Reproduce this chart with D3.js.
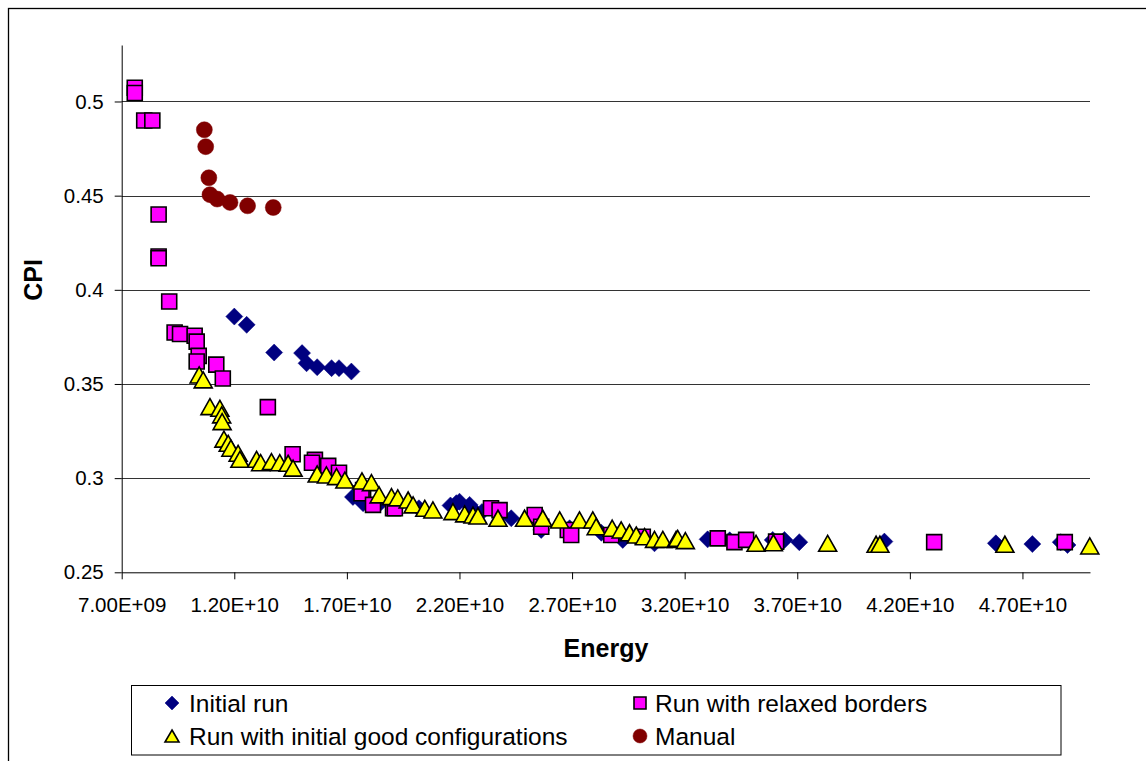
<!DOCTYPE html>
<html>
<head>
<meta charset="utf-8">
<script src="https://cdn.jsdelivr.net/npm/d3@7"></script>
<style>
  body { margin: 0; background: #fff; }
  svg { display: block; font-family: "Liberation Sans", Arial, sans-serif; }
</style>
</head>
<body>
<svg id="chart" width="1146" height="761"></svg>
<script>
// series: [energy, cpi]
var initialRun = [
  [12.00e9, 0.3858], [12.55e9, 0.3814], [13.77e9, 0.3667], [15.01e9, 0.3664],
  [15.21e9, 0.3610], [15.68e9, 0.3589], [16.32e9, 0.3584], [16.65e9, 0.3584],
  [17.20e9, 0.3566],
  [17.27e9, 0.2900], [17.72e9, 0.2867], [18.50e9, 0.2870], [19.30e9, 0.2860],
  [20.20e9, 0.2840], [21.60e9, 0.2855], [21.86e9, 0.2867], [22.00e9, 0.2875],
  [22.45e9, 0.2858], [22.50e9, 0.2845], [23.00e9, 0.2820], [24.30e9, 0.2787],
  [25.63e9, 0.2725], [26.89e9, 0.2734], [28.30e9, 0.2710], [29.25e9, 0.2672],
  [30.66e9, 0.2654], [33.02e9, 0.2675], [34.00e9, 0.2670], [35.91e9, 0.2672],
  [36.43e9, 0.2672], [37.09e9, 0.2660], [40.87e9, 0.2663], [45.82e9, 0.2654],
  [47.44e9, 0.2650], [48.70e9, 0.2660], [49.00e9, 0.2645]
];

var relaxedBorders = [
  [7.58e9, 0.5073], [7.58e9, 0.5045], [8.00e9, 0.4899], [8.36e9, 0.4899],
  [8.64e9, 0.4400], [8.64e9, 0.4177], [8.64e9, 0.4168], [9.11e9, 0.3938],
  [9.35e9, 0.3773], [9.59e9, 0.3765], [10.24e9, 0.3756], [10.33e9, 0.3725],
  [10.42e9, 0.3649], [10.33e9, 0.3619], [11.20e9, 0.3603], [11.49e9, 0.3529],
  [13.49e9, 0.3377], [14.59e9, 0.3127], [15.58e9, 0.3097], [15.45e9, 0.3082],
  [16.17e9, 0.3065], [16.65e9, 0.3029], [17.72e9, 0.2937], [17.65e9, 0.2920],
  [18.16e9, 0.2858], [19.05e9, 0.2840], [19.13e9, 0.2840], [23.40e9, 0.2840],
  [23.78e9, 0.2830], [25.34e9, 0.2804], [25.63e9, 0.2742], [26.81e9, 0.2725],
  [26.96e9, 0.2698], [28.74e9, 0.2698], [30.14e9, 0.2689], [33.47e9, 0.2680],
  [34.21e9, 0.2660], [34.73e9, 0.2672], [36.06e9, 0.2663], [43.08e9, 0.2660],
  [48.88e9, 0.2660]
];

var goodConfigs = [
  [10.44e9, 0.3548], [10.62e9, 0.3522], [10.92e9, 0.3380], [11.36e9, 0.3371],
  [11.44e9, 0.3336], [11.46e9, 0.3300], [11.54e9, 0.3207], [11.73e9, 0.3185],
  [11.85e9, 0.3159], [12.17e9, 0.3132], [12.25e9, 0.3100], [12.99e9, 0.3100],
  [13.17e9, 0.3082], [13.65e9, 0.3088], [14.02e9, 0.3082], [14.39e9, 0.3079],
  [14.61e9, 0.3053], [15.68e9, 0.3022], [16.09e9, 0.3017], [16.54e9, 0.3008],
  [16.91e9, 0.2990], [17.67e9, 0.2985], [18.09e9, 0.2976], [18.43e9, 0.2911],
  [18.98e9, 0.2902], [19.26e9, 0.2895], [19.72e9, 0.2884], [19.94e9, 0.2858],
  [20.46e9, 0.2840], [20.82e9, 0.2831], [21.71e9, 0.2822], [22.23e9, 0.2810],
  [22.60e9, 0.2804], [22.82e9, 0.2799], [23.71e9, 0.2787], [24.89e9, 0.2787],
  [25.70e9, 0.2787], [26.45e9, 0.2778], [27.33e9, 0.2778], [27.92e9, 0.2778],
  [28.07e9, 0.2742], [28.78e9, 0.2734], [29.18e9, 0.2725], [29.55e9, 0.2710],
  [29.85e9, 0.2698], [30.22e9, 0.2689], [30.66e9, 0.2675], [31.03e9, 0.2675],
  [31.62e9, 0.2675], [31.69e9, 0.2680], [32.03e9, 0.2668], [35.17e9, 0.2654],
  [35.94e9, 0.2657], [38.35e9, 0.2654], [40.50e9, 0.2649], [40.67e9, 0.2649],
  [46.22e9, 0.2649], [49.99e9, 0.2640]
];

var manual = [
  [10.67e9, 0.485], [10.73e9, 0.476], [10.87e9, 0.4595], [10.92e9, 0.4505],
  [11.24e9, 0.4482], [11.81e9, 0.4464], [12.59e9, 0.4446], [13.73e9, 0.4437]
];

var xTicks = [7e9, 12e9, 17e9, 22e9, 27e9, 32e9, 37e9, 42e9, 47e9];
var yTicks = [0.25, 0.30, 0.35, 0.40, 0.45, 0.50];

var svg = d3.select("#chart");

var x = d3.scaleLinear().domain([7e9, 5e10]).range([121.7, 1090]);
var y = d3.scaleLinear().domain([0.25, 0.53]).range([572.3, 45]);

// outer chart-area border (cut off at right and bottom like the picture)
svg.append("rect")
  .attr("x", 8.5).attr("y", 8.5)
  .attr("width", 1160).attr("height", 780)
  .attr("fill", "#fff").attr("stroke", "#000").attr("stroke-width", 1.3);

// horizontal gridlines
svg.append("g").selectAll("line")
  .data(yTicks.slice(1))
  .enter().append("line")
  .attr("x1", x(7e9)).attr("x2", x(5e10))
  .attr("y1", function(d) { return Math.round(y(d)) + 0.5; })
  .attr("y2", function(d) { return Math.round(y(d)) + 0.5; })
  .attr("stroke", "#333").attr("stroke-width", 1);

function sciFormat(v) {
  var s = d3.format(".2e")(v).split("e");
  var exp = +s[1];
  return s[0] + "E" + (exp < 0 ? "-" : "+") + d3.format("02d")(Math.abs(exp));
}

var xAxis = svg.append("g")
  .attr("transform", "translate(0," + y(0.25) + ")")
  .call(d3.axisBottom(x).tickValues(xTicks).tickSize(7).tickSizeOuter(0)
    .tickPadding(18).tickFormat(sciFormat));

var yAxis = svg.append("g")
  .attr("transform", "translate(" + x(7e9) + ",0)")
  .call(d3.axisLeft(y).tickValues(yTicks).tickSize(7).tickSizeOuter(0)
    .tickPadding(11).tickFormat(function(d) { return +d.toFixed(2); }));

[xAxis, yAxis].forEach(function(a) {
  a.select(".domain").attr("stroke", "#000");
  a.selectAll(".tick line").attr("stroke", "#000");
  a.selectAll(".tick text")
    .attr("fill", "#000")
    .style("font-size", "20.5px")
    .style("font-family", "'Liberation Sans', Arial, sans-serif");
});

// axis titles
svg.append("text")
  .attr("x", 606).attr("y", 657)
  .attr("text-anchor", "middle")
  .style("font-size", "25px").style("font-weight", "bold")
  .text("Energy");

svg.append("text")
  .attr("transform", "translate(42,280) rotate(-90)")
  .attr("text-anchor", "middle")
  .style("font-size", "25px").style("font-weight", "bold")
  .text("CPI");

// marker shapes
function diamond(s) {
  return "M0," + (-s) + "L" + s + ",0L0," + s + "L" + (-s) + ",0Z";
}
function square(s) {
  return "M" + (-s) + "," + (-s) + "H" + s + "V" + s + "H" + (-s) + "Z";
}
function triangle(w, h) {
  return "M0," + (-h / 2) + "L" + (w / 2) + "," + (h / 2) + "L" + (-w / 2) + "," + (h / 2) + "Z";
}

var series = [
  { name: "Initial run", data: initialRun, path: diamond(8.5), legendPath: diamond(7),
    fill: "#000080", stroke: "#000080", sw: 0.5 },
  { name: "Run with relaxed borders", data: relaxedBorders, path: square(7.5), legendPath: square(6),
    fill: "#ff00ff", stroke: "#000", sw: 1.6 },
  { name: "Run with initial good configurations", data: goodConfigs, path: triangle(18, 16), legendPath: triangle(14, 12),
    fill: "#ffff00", stroke: "#000", sw: 1.6 },
  { name: "Manual", data: manual, circle: 8, legendCircle: 7,
    fill: "#800000", stroke: "#800000", sw: 0.5 }
];

series.forEach(function(s) {
  var g = svg.append("g");
  var sel = g.selectAll("m").data(s.data).enter();
  if (s.circle) {
    sel.append("circle")
      .attr("cx", function(d) { return x(d[0]); })
      .attr("cy", function(d) { return y(d[1]); })
      .attr("r", s.circle)
      .attr("fill", s.fill).attr("stroke", s.stroke).attr("stroke-width", s.sw);
  } else {
    sel.append("path")
      .attr("d", s.path)
      .attr("transform", function(d) { return "translate(" + x(d[0]) + "," + y(d[1]) + ")"; })
      .attr("fill", s.fill).attr("stroke", s.stroke).attr("stroke-width", s.sw)
      .attr("stroke-linejoin", "miter");
  }
});

// legend
var legend = svg.append("g");
legend.append("rect")
  .attr("x", 131.5).attr("y", 685.5)
  .attr("width", 929.5).attr("height", 69.5)
  .attr("fill", "#fff").attr("stroke", "#000").attr("stroke-width", 1);

var legendPos = [
  { mx: 172, tx: 189, y: 703 },
  { mx: 640, tx: 655, y: 703 },
  { mx: 172, tx: 189, y: 736 },
  { mx: 640, tx: 655, y: 736 }
];

series.forEach(function(s, i) {
  var p = legendPos[i];
  if (s.legendCircle) {
    legend.append("circle")
      .attr("cx", p.mx).attr("cy", p.y).attr("r", s.legendCircle)
      .attr("fill", s.fill).attr("stroke", s.stroke).attr("stroke-width", s.sw);
  } else {
    legend.append("path")
      .attr("d", s.legendPath)
      .attr("transform", "translate(" + p.mx + "," + p.y + ")")
      .attr("fill", s.fill).attr("stroke", s.stroke).attr("stroke-width", s.sw);
  }
  legend.append("text")
    .attr("x", p.tx).attr("y", p.y + 8.5)
    .style("font-size", "24.5px")
    .text(s.name);
});
</script>
</body>
</html>
